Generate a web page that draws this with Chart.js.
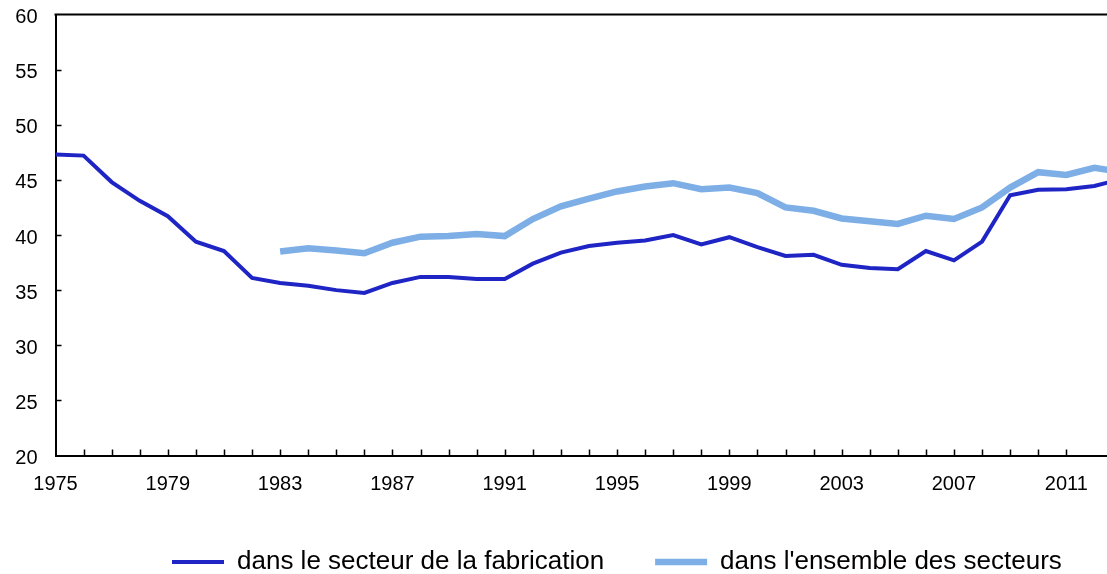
<!DOCTYPE html>
<html>
<head>
<meta charset="utf-8">
<script src="https://cdn.jsdelivr.net/npm/chart.js@4"></script>
<style>
  html, body { margin: 0; padding: 0; background: #fff; overflow: hidden; }
  #wrap { position: relative; width: 1107px; height: 574px; }
</style>
</head>
<body>
<div id="wrap"><canvas id="chart"></canvas></div>
<script>
// annees 1975 - 2013 (la derniere annee est coupee au bord droit)
const years = [1975, 1976, 1977, 1978, 1979, 1980, 1981, 1982, 1983, 1984,
               1985, 1986, 1987, 1988, 1989, 1990, 1991, 1992, 1993, 1994,
               1995, 1996, 1997, 1998, 1999, 2000, 2001, 2002, 2003, 2004,
               2005, 2006, 2007, 2008, 2009, 2010, 2011, 2012, 2013];

const fabrication = [47.3, 47.2, 44.8, 43.1, 41.7, 39.4, 38.55, 36.1, 35.65, 35.4,
                     35.0, 34.75, 35.65, 36.2, 36.2, 36.0, 36.0, 37.4, 38.4, 39.0,
                     39.3, 39.5, 40.0, 39.15, 39.8, 38.9, 38.1, 38.2, 37.3, 37.0,
                     36.9, 38.55, 37.7, 39.4, 43.6, 44.1, 44.15, 44.45, 45.1];

const ensemble = [null, null, null, null, null, null, null, null, 38.5, 38.8,
                  38.6, 38.35, 39.3, 39.85, 39.9, 40.1, 39.9, 41.45, 42.6, 43.3,
                  43.95, 44.4, 44.7, 44.15, 44.3, 43.8, 42.5, 42.2, 41.5, 41.25,
                  41.0, 41.75, 41.45, 42.5, 44.3, 45.7, 45.45, 46.1, 45.7];

const seriesNames = ['dans le secteur de la fabrication', "dans l'ensemble des secteurs"];
const yTicks = [20, 25, 30, 35, 40, 45, 50, 55, 60];

const FONT = "'Liberation Sans', Arial, sans-serif";
const LEGEND_PAD = 51;

// petits traits de graduation vers l'interieur + trait du haut
const frame = {
    id: 'frame',
    afterLayout(chart) {
        const lg = chart.legend;
        lg.left = 172 - LEGEND_PAD;
        lg.right = 1500;
        lg.top = 562 - 13 - LEGEND_PAD;
    },
    afterDraw(chart) {
        const {ctx, chartArea: a, scales} = chart;
        ctx.save();
        ctx.strokeStyle = '#000';
        ctx.lineWidth = 1.5;
        ctx.beginPath();
        scales.x.ticks.forEach(t => {
            if (t.value > 1975 && Number.isInteger(t.value)) {
                const px = Math.round(scales.x.getPixelForValue(t.value)) + 0.5;
                ctx.moveTo(px, a.bottom);
                ctx.lineTo(px, a.bottom - 6);
            }
        });
        yTicks.forEach(v => {
            if (v > 20 && v < 60) {
                const py = Math.round(scales.y.getPixelForValue(v)) + 0.5;
                ctx.moveTo(a.left, py);
                ctx.lineTo(a.left + 6, py);
            }
        });
        ctx.stroke();
        ctx.lineWidth = 2;
        ctx.beginPath();
        ctx.moveTo(a.left - 1, a.top);
        ctx.lineTo(a.right, a.top);
        ctx.stroke();
        ctx.restore();
    }
};

const ctx = document.getElementById('chart').getContext('2d');
new Chart(ctx, {
    type: 'line',
    data: {
        labels: years,
        datasets: [{
            label: seriesNames[0],
            data: fabrication,
            borderColor: '#1f25c4',
            backgroundColor: '#1f25c4',
            borderWidth: 4,
            pointRadius: 0,
            tension: 0
        }, {
            label: seriesNames[1],
            data: ensemble,
            borderColor: '#7dafe6',
            backgroundColor: '#7dafe6',
            borderWidth: 6.5,
            pointRadius: 0,
            tension: 0
        }]
    },
    options: {
        responsive: true,
        maintainAspectRatio: false,
        animation: false,
        layout: { padding: { top: 14.5, left: 0, right: 0, bottom: 0 } },
        plugins: {
            tooltip: { enabled: false },
            legend: {
                position: 'bottom',
                align: 'start',
                maxHeight: 40,
                labels: {
                    usePointStyle: true,
                    pointStyle: 'line',
                    pointStyleWidth: 52,
                    padding: LEGEND_PAD,
                    color: '#000',
                    font: { family: FONT, size: 26 }
                }
            }
        },
        scales: {
            x: {
                type: 'linear',
                min: 1975,
                max: 2012.45,
                afterFit(scale) {
                    scale.height = 78.5;
                    scale.paddingLeft = 0;
                    scale.paddingRight = 0;
                },
                grid: { display: false, drawTicks: false },
                border: { display: true, color: '#000', width: 2 },
                ticks: {
                    stepSize: 1,
                    autoSkip: false,
                    maxRotation: 0,
                    padding: 17,
                    color: '#000',
                    font: { family: FONT, size: 20 },
                    callback: v => (Number.isInteger(v) && (v - 1975) % 4 === 0) ? String(v) : ''
                }
            },
            y: {
                min: 20,
                max: 60,
                afterFit(scale) {
                    scale.width = 55.5;
                    scale.paddingTop = 0;
                    scale.paddingBottom = 0;
                },
                grid: { display: false, drawTicks: false },
                border: { display: true, color: '#000', width: 2 },
                ticks: {
                    stepSize: 5,
                    padding: 18,
                    labelOffset: 3,
                    color: '#000',
                    font: { family: FONT, size: 20 }
                }
            }
        }
    },
    plugins: [frame]
});
</script>
</body>
</html>
